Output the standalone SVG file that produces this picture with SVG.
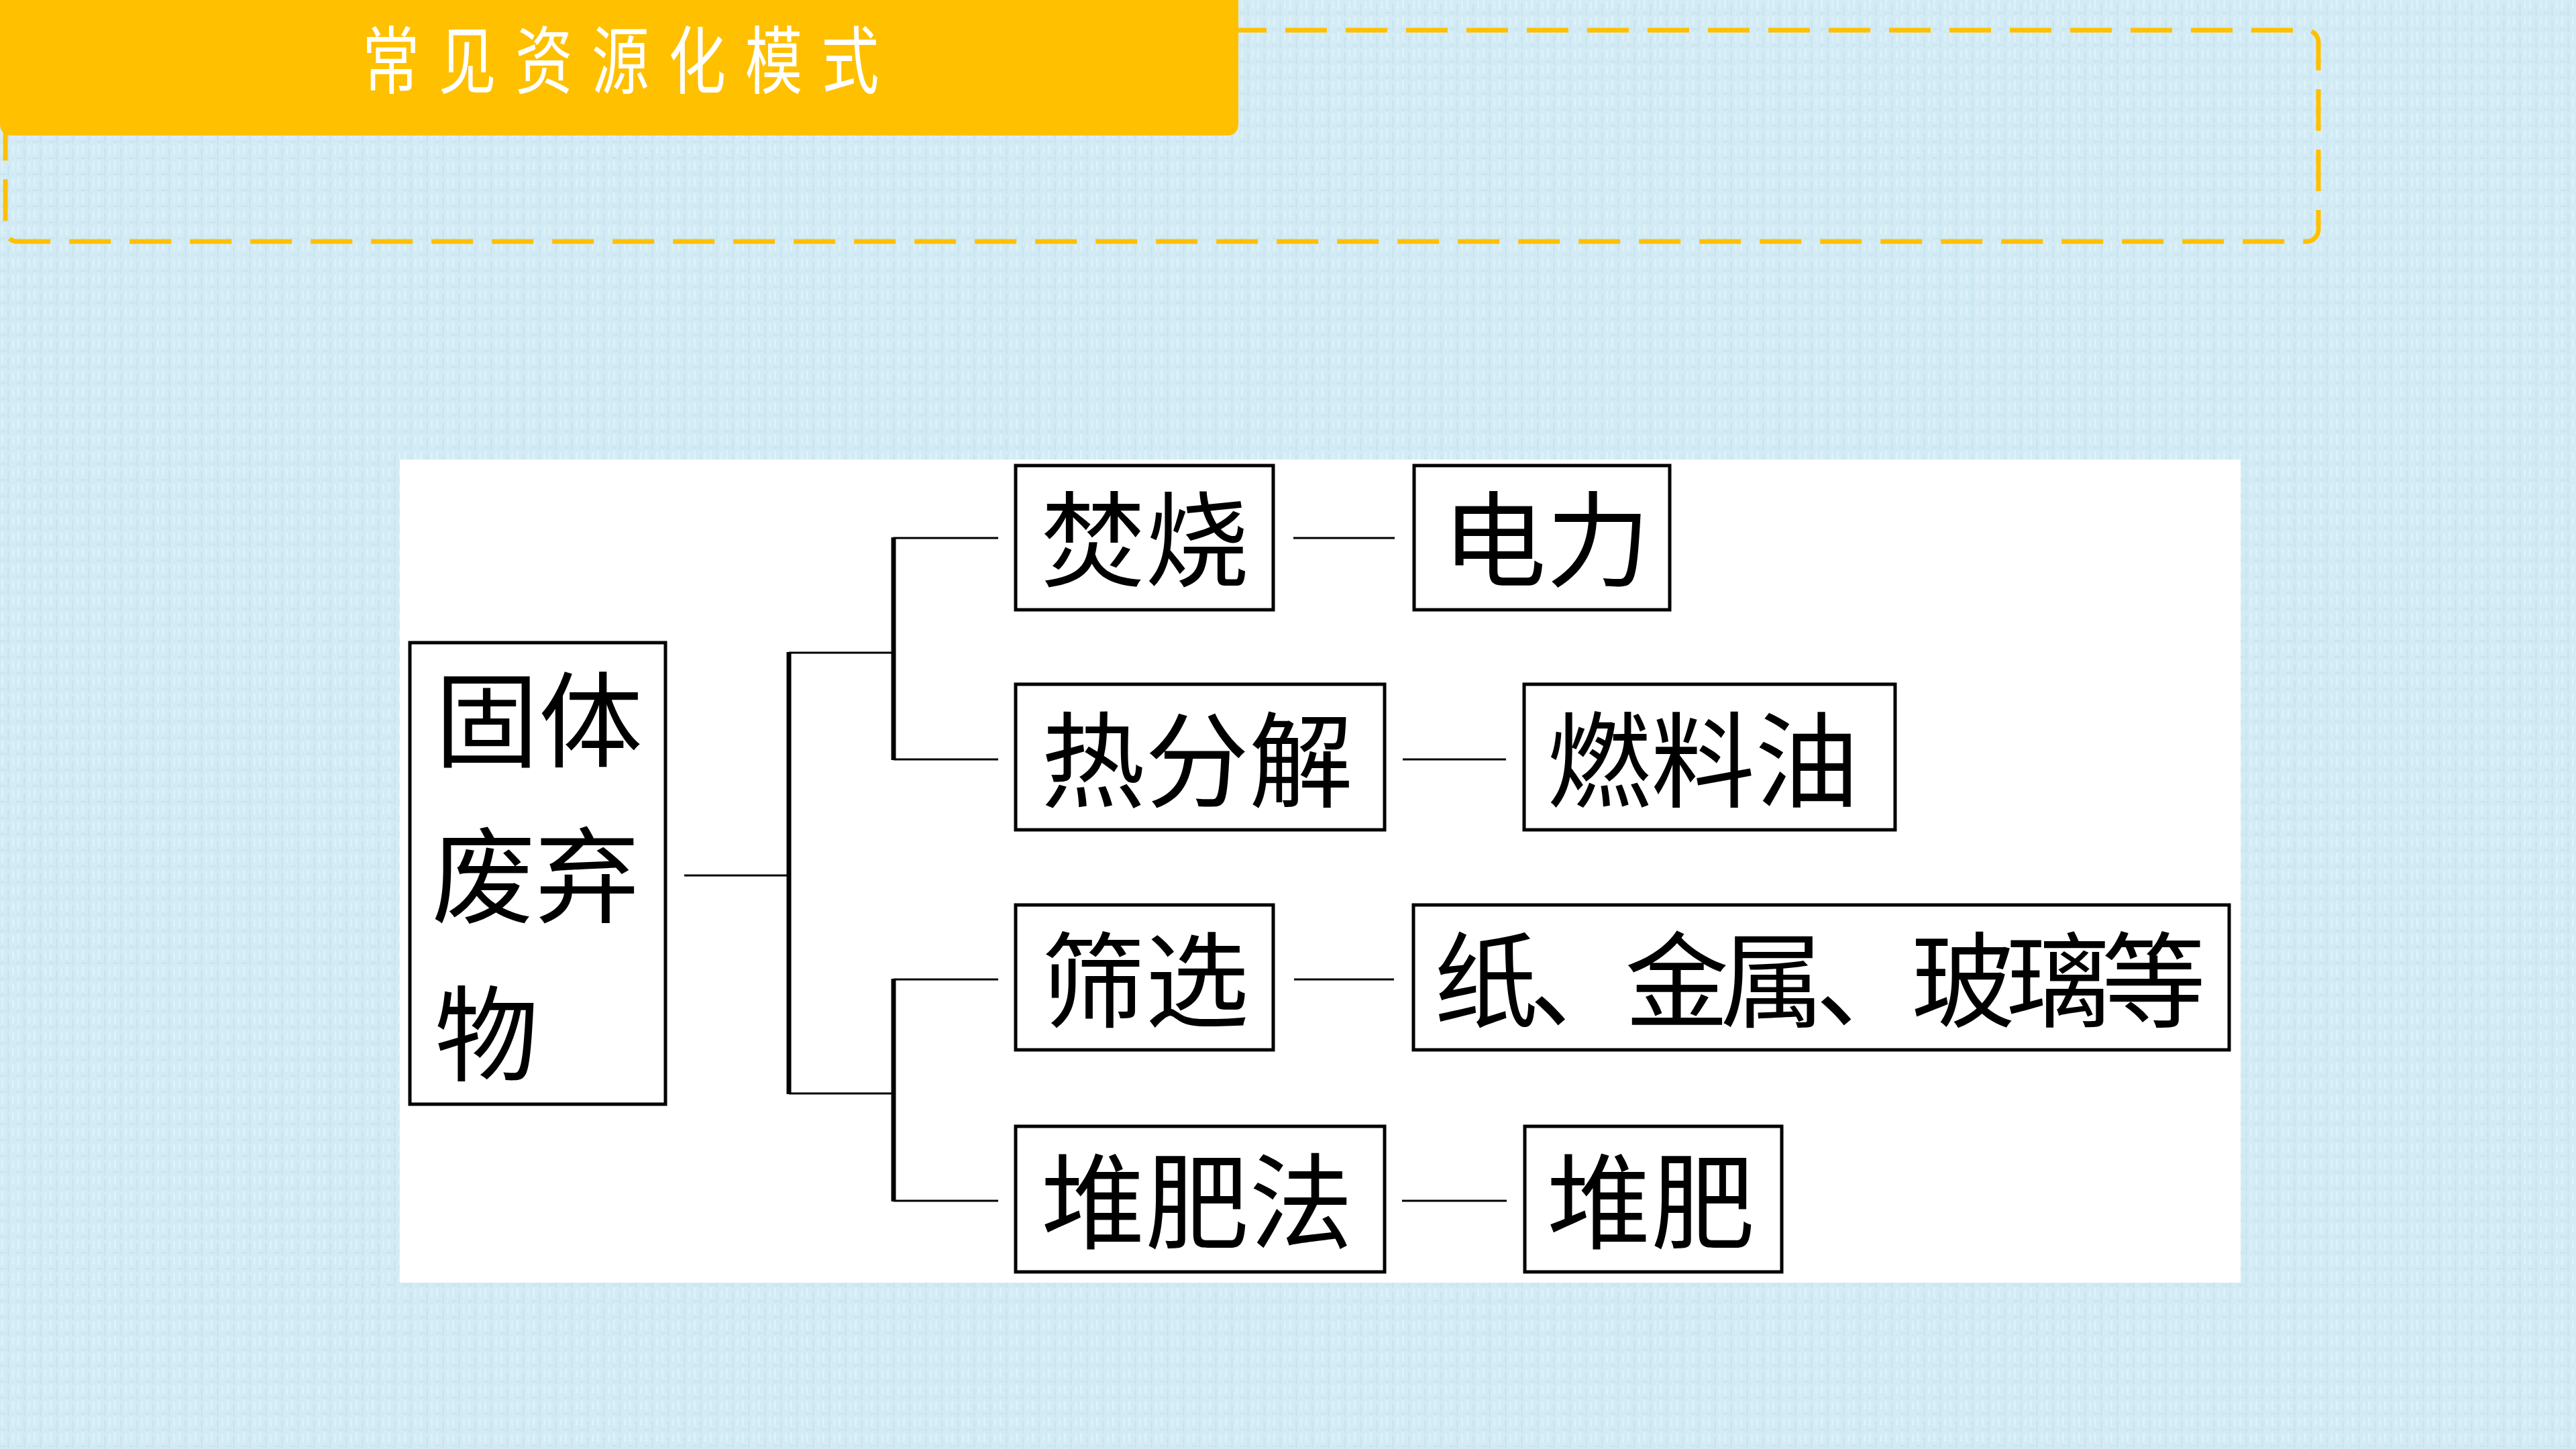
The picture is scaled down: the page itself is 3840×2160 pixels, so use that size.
<svg xmlns="http://www.w3.org/2000/svg" width="3840" height="2160" viewBox="0 0 3840 2160">
  <defs>
    <pattern id="tex" width="24" height="24" patternUnits="userSpaceOnUse">
      <rect width="24" height="24" fill="#d3ebf5"/>
      <rect x="2" y="0" width="3" height="14" fill="#ddf1f8"/>
      <rect x="11" y="6" width="3" height="18" fill="#cae5f1"/>
      <rect x="18" y="2" width="3" height="12" fill="#ddf1f8"/>
      <rect x="0" y="18" width="10" height="3" fill="#cce6f1"/>
    </pattern>
  </defs>
  <style>
    .box { fill: #ffffff; stroke: #000000; stroke-width: 5; }
    .lbl { font-family: "Noto Sans CJK SC", "Noto Sans", sans-serif; font-size: 155px; fill: #000000; dominant-baseline: central; }
    .thin { stroke: #000000; stroke-width: 3; fill: none; }
    .thick { stroke: #000000; stroke-width: 7; fill: none; }
  </style>

  <rect x="0" y="0" width="3840" height="2160" fill="url(#tex)"/>

  <!-- header -->
  <g id="header">
    <rect x="8" y="45" width="3448" height="315" rx="18" ry="18" fill="none" stroke="#ffc000" stroke-width="7" stroke-dasharray="62 28"/>
    <path d="M0 0 H1846 V184 Q1846 202 1828 202 H18 Q0 202 0 184 Z" fill="#ffc000"/>
    <text transform="translate(925,83) scale(0.78,1)" text-anchor="middle" dominant-baseline="central" font-family="Noto Sans CJK SC, sans-serif" font-size="110" fill="#ffffff" textLength="988" lengthAdjust="spacing">常见资源化模式</text>
  </g>

  <!-- panel -->
  <rect id="panel" x="596" y="685" width="2744" height="1227" fill="#ffffff"/>

  <!-- connectors -->
  <g id="connectors">
    <line class="thin" x1="1020" y1="1305" x2="1176" y2="1305"/>
    <line class="thick" x1="1176" y1="972" x2="1176" y2="1631"/>
    <line class="thin" x1="1176" y1="973" x2="1332" y2="973"/>
    <line class="thin" x1="1176" y1="1630" x2="1332" y2="1630"/>
    <line class="thick" x1="1332" y1="801" x2="1332" y2="1133"/>
    <line class="thick" x1="1332" y1="1459" x2="1332" y2="1791"/>
    <line class="thin" x1="1332" y1="802" x2="1488" y2="802"/>
    <line class="thin" x1="1332" y1="1132" x2="1488" y2="1132"/>
    <line class="thin" x1="1332" y1="1460" x2="1488" y2="1460"/>
    <line class="thin" x1="1332" y1="1790" x2="1488" y2="1790"/>
    <line class="thin" x1="1928" y1="802" x2="2079" y2="802"/>
    <line class="thin" x1="2091" y1="1132" x2="2245" y2="1132"/>
    <line class="thin" x1="1929" y1="1460" x2="2078" y2="1460"/>
    <line class="thin" x1="2090" y1="1790" x2="2246" y2="1790"/>
  </g>

  <!-- nodes -->
  <g id="n-solid">
    <rect class="box" x="611" y="958" width="381" height="688"/>
    <text class="lbl" x="648" y="1063">固体</text>
    <text class="lbl" x="643" y="1295">废弃</text>
    <text class="lbl" x="648" y="1531">物</text>
  </g>
  <g id="n-burn">
    <rect class="box" x="1514" y="694" width="384" height="215"/>
    <text class="lbl" x="1552" y="794">焚烧</text>
  </g>
  <g id="n-power">
    <rect class="box" x="2108" y="694" width="381" height="215"/>
    <text class="lbl" x="2150" y="794">电力</text>
  </g>
  <g id="n-pyro">
    <rect class="box" x="1514" y="1020" width="550" height="217"/>
    <text class="lbl" x="1552" y="1123">热分解</text>
  </g>
  <g id="n-oil">
    <rect class="box" x="2272" y="1020" width="553" height="217"/>
    <text class="lbl" x="2306" y="1123">燃料油</text>
  </g>
  <g id="n-screen">
    <rect class="box" x="1514" y="1349" width="384" height="216"/>
    <text class="lbl" x="1552" y="1451">筛选</text>
  </g>
  <g id="n-paper">
    <rect class="box" x="2107" y="1349" width="1216" height="216"/>
    <text class="lbl" x="2138" y="1451" textLength="1150" lengthAdjust="spacing">纸、金属、玻璃等</text>
  </g>
  <g id="n-compost-m">
    <rect class="box" x="1514" y="1679" width="550" height="217"/>
    <text class="lbl" x="1552" y="1781">堆肥法</text>
  </g>
  <g id="n-compost">
    <rect class="box" x="2273" y="1679" width="383" height="217"/>
    <text class="lbl" x="2306" y="1781">堆肥</text>
  </g>
</svg>
